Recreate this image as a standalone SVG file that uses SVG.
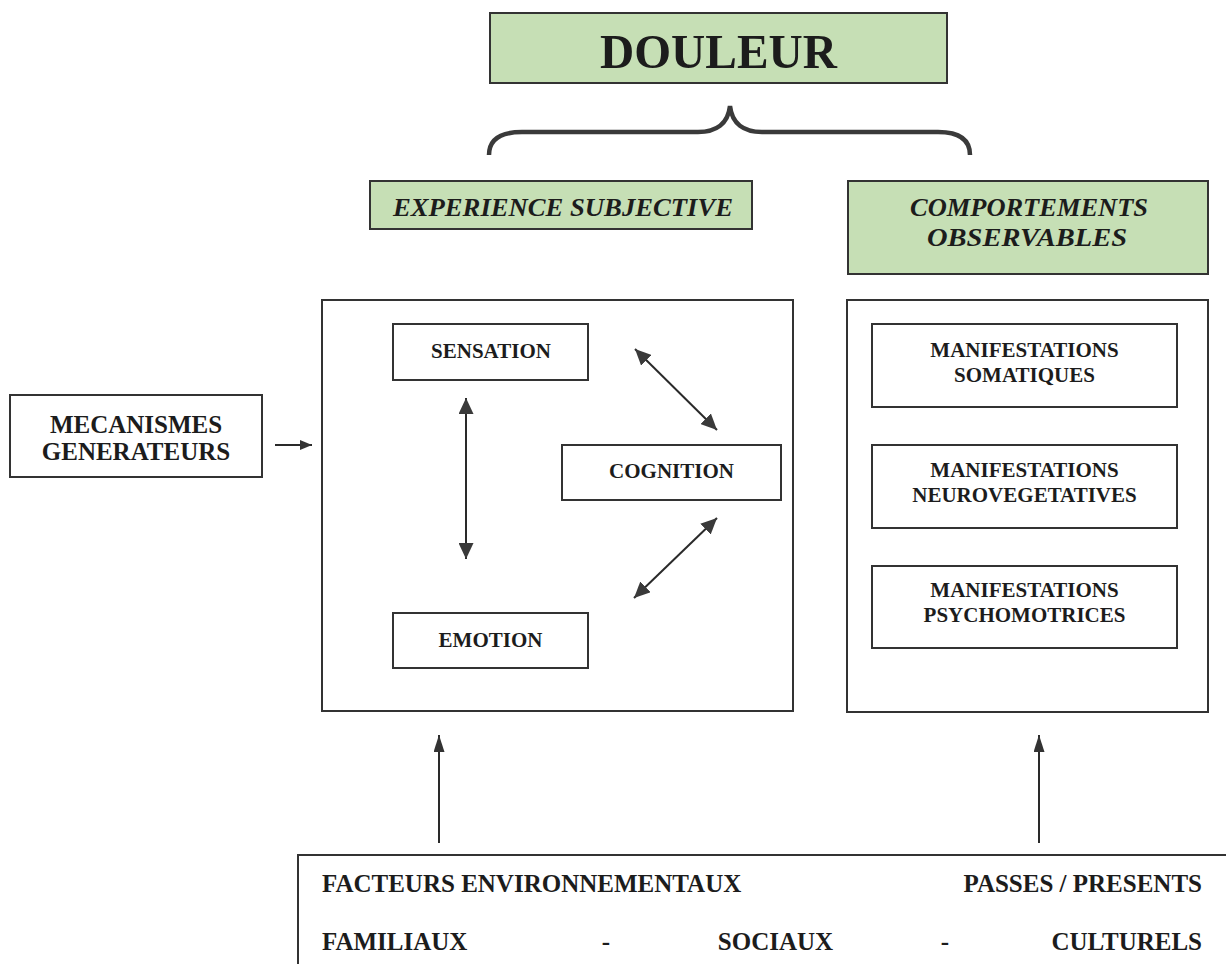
<svg xmlns="http://www.w3.org/2000/svg" width="1226" height="964" viewBox="0 0 1226 964">
  <style>
    .box { fill: #ffffff; stroke: #333333; stroke-width: 2; }
    .gbox { fill: #c6dfb5; stroke: #333333; stroke-width: 2; }
    .t { font-family: "Liberation Serif", "Times New Roman", serif; font-weight: bold; fill: #1c1c1c; }
    .tc { text-anchor: middle; }
    .ti { font-style: italic; }
    .ln { stroke: #2a2a2a; stroke-width: 2; fill: none; }
  </style>
  <defs>
    <marker id="ah" viewBox="0 0 16 15" refX="16" refY="7.5" markerWidth="16" markerHeight="15" markerUnits="userSpaceOnUse" orient="auto-start-reverse">
      <path d="M0,0 L16,7.5 L0,15 z" fill="#3a3a3a"/>
    </marker>
    <marker id="ahs" viewBox="0 0 12 10" refX="12" refY="5" markerWidth="12" markerHeight="10" markerUnits="userSpaceOnUse" orient="auto">
      <path d="M0,0 L12,5 L0,10 z" fill="#333333"/>
    </marker>
    <marker id="ahl" viewBox="0 0 17 11" refX="17" refY="5.5" markerWidth="17" markerHeight="11" markerUnits="userSpaceOnUse" orient="auto">
      <path d="M0,0 L17,5.5 L0,11 z" fill="#333333"/>
    </marker>
  </defs>

  <g id="douleur">
    <rect class="gbox" x="490" y="13" width="457" height="70"/>
    <text class="t tc" x="718.5" y="68" font-size="49" textLength="237" lengthAdjust="spacingAndGlyphs">DOULEUR</text>
  </g>

  <g id="brace">
    <path d="M489,155 C489,140 500,132 522,132 L698,132 C716,132 728,124 730,106 C732,124 744,132 762,132 L938,132 C960,132 970,140 970,155" fill="none" stroke="#3a3a3a" stroke-width="4.5"/>
  </g>

  <g id="experience">
    <rect class="gbox" x="370" y="181" width="382" height="48"/>
    <text class="t ti" x="393" y="216" font-size="25" textLength="340" lengthAdjust="spacingAndGlyphs">EXPERIENCE SUBJECTIVE</text>
  </g>

  <g id="comportements">
    <rect class="gbox" x="848" y="181" width="360" height="93"/>
    <text class="t ti tc" x="1029" y="216" font-size="25" textLength="238" lengthAdjust="spacingAndGlyphs">COMPORTEMENTS</text>
    <text class="t ti tc" x="1027" y="246" font-size="25" textLength="200" lengthAdjust="spacingAndGlyphs">OBSERVABLES</text>
  </g>

  <g id="mecanismes">
    <rect class="box" x="10" y="395" width="252" height="82"/>
    <text class="t tc" x="136" y="433" font-size="25">MECANISMES</text>
    <text class="t tc" x="136" y="460" font-size="25">GENERATEURS</text>
  </g>

  <g id="experience-box">
    <rect class="box" x="322" y="300" width="471" height="411"/>
  </g>

  <g id="sensation">
    <rect class="box" x="393" y="324" width="195" height="56"/>
    <text class="t tc" x="491" y="358" font-size="21">SENSATION</text>
  </g>

  <g id="cognition">
    <rect class="box" x="562" y="445" width="219" height="55"/>
    <text class="t tc" x="671.5" y="478" font-size="21">COGNITION</text>
  </g>

  <g id="emotion">
    <rect class="box" x="393" y="613" width="195" height="55"/>
    <text class="t tc" x="490.5" y="647" font-size="21">EMOTION</text>
  </g>

  <g id="comportements-box">
    <rect class="box" x="847" y="300" width="361" height="412"/>
  </g>

  <g id="somatiques">
    <rect class="box" x="872" y="324" width="305" height="83"/>
    <text class="t tc" x="1024.5" y="357" font-size="21">MANIFESTATIONS</text>
    <text class="t tc" x="1024.5" y="382" font-size="21">SOMATIQUES</text>
  </g>

  <g id="neurovegetatives">
    <rect class="box" x="872" y="445" width="305" height="83"/>
    <text class="t tc" x="1024.5" y="477" font-size="21">MANIFESTATIONS</text>
    <text class="t tc" x="1024.5" y="502" font-size="21">NEUROVEGETATIVES</text>
  </g>

  <g id="psychomotrices">
    <rect class="box" x="872" y="566" width="305" height="82"/>
    <text class="t tc" x="1024.5" y="597" font-size="21">MANIFESTATIONS</text>
    <text class="t tc" x="1024.5" y="622" font-size="21">PSYCHOMOTRICES</text>
  </g>

  <g id="facteurs">
    <rect class="box" x="298" y="855" width="950" height="130"/>
    <text class="t" x="322" y="892" font-size="25">FACTEURS ENVIRONNEMENTAUX</text>
    <text class="t" x="1202" y="892" font-size="25" text-anchor="end">PASSES / PRESENTS</text>
    <text class="t" x="322" y="950" font-size="25">FAMILIAUX</text>
    <text class="t tc" x="606" y="950" font-size="25">-</text>
    <text class="t tc" x="775.5" y="950" font-size="25">SOCIAUX</text>
    <text class="t tc" x="945" y="950" font-size="25">-</text>
    <text class="t" x="1202" y="950" font-size="25" text-anchor="end">CULTURELS</text>
  </g>

  <g id="connectors">
    <line class="ln" x1="275" y1="445" x2="312" y2="445" marker-end="url(#ahs)"/>
    <line class="ln" x1="466" y1="398" x2="466" y2="559" marker-start="url(#ah)" marker-end="url(#ah)"/>
    <line class="ln" x1="635" y1="349" x2="717" y2="430" marker-start="url(#ah)" marker-end="url(#ah)"/>
    <line class="ln" x1="717" y1="518" x2="634" y2="598" marker-start="url(#ah)" marker-end="url(#ah)"/>
    <line class="ln" x1="439" y1="843" x2="439" y2="735" marker-end="url(#ahl)"/>
    <line class="ln" x1="1039" y1="843" x2="1039" y2="735" marker-end="url(#ahl)"/>
  </g>
</svg>
